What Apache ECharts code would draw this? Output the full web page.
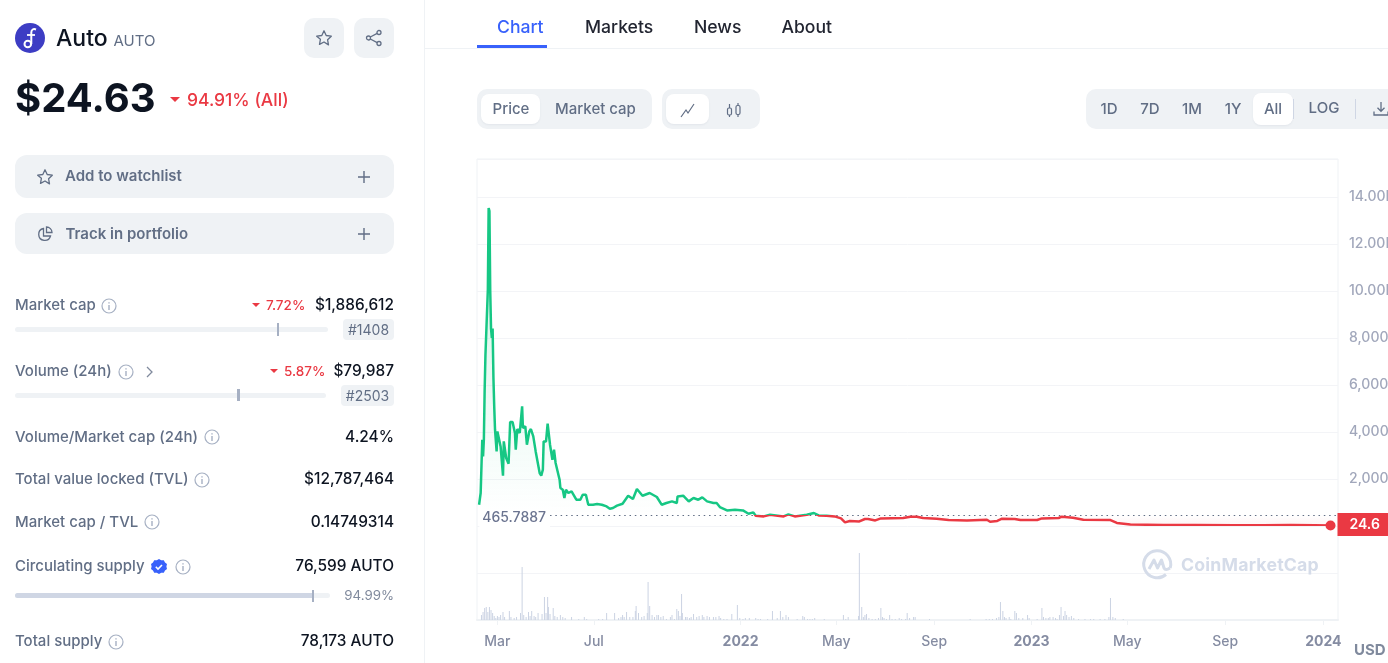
<!DOCTYPE html>
<html><head><meta charset="utf-8"><title>Auto</title>
<script src="https://cdn.jsdelivr.net/npm/echarts@6/dist/echarts.min.js"></script>
<style>
html,body{margin:0;padding:0;width:1388px;height:663px;overflow:hidden;background:#fff;font-family:Inter,"Noto Sans",sans-serif;color:#0D1421}
#chart{position:absolute;left:0;top:0;width:1388px;height:663px}
#ui{position:absolute;left:0;top:0;width:1388px;height:663px;pointer-events:none}
.t{position:absolute;white-space:nowrap;transform:translateY(-50%);line-height:1.2}
.r{transform:translate(-100%,-50%)}
.c{transform:translate(-50%,-50%)}
.l{font-size:15px;font-weight:500;color:#616E85;left:15px}
.v{font-size:15.4px;font-weight:500;color:#0D1421;left:394px}
.red{color:#EA3943}
.b{position:absolute}
.g{background:#EFF2F5}
.w{background:#fff;box-shadow:0 1px 2px rgba(88,102,126,.08)}
.i{position:absolute;overflow:visible}
.tab{font-size:17.6px;font-weight:500;color:#222531}
.tb{font-size:15px;font-weight:500;color:#616E85}
.tri{position:absolute;width:0;height:0;border-left:5px solid transparent;border-right:5px solid transparent;border-top:5px solid #EA3943}
</style></head><body>
<div id="chart"></div>
<div id="ui">
<svg width="0" height="0" style="position:absolute"><defs>
<symbol id="info" viewBox="0 0 16 16"><circle cx="8" cy="8" r="7" fill="none" stroke="#A6B0C3" stroke-width="1.2"/><path d="M8 7v5M8 4.2v1.2" stroke="#A6B0C3" stroke-width="1.4" fill="none"/></symbol>
<symbol id="star" viewBox="0 0 18 18"><path d="M9 1.8l2.2 4.7 5.1.7-3.7 3.6.9 5.1L9 13l-4.5 2.4.9-5.1L1.7 7.200l5.100-.7z" fill="none" stroke="#616E85" stroke-width="1.300" stroke-linejoin="round"/></symbol>
<symbol id="plus" viewBox="0 0 12 12"><path d="M6 0v12M0 6h12" stroke="#616E85" stroke-width="1.400"/></symbol>
</defs></svg>

<div class="b" style="left:424px;top:0;width:1px;height:663px;background:#EFF2F5"></div>
<svg class="i" style="left:15px;top:23px" width="30" height="30" viewBox="0 0 30 30"><circle cx="15" cy="15" r="15" fill="#3D3DC4"/><path d="M21 6.500c-2.500-1-4.700 0-4.700 3v11.500" fill="none" stroke="#fff" stroke-width="2"/><circle cx="12.800" cy="21" r="3.300" fill="none" stroke="#fff" stroke-width="2"/><path d="M12 12h8" stroke="#fff" stroke-width="1.800"/></svg>
<div class="t" style="left:56px;top:38.500px;font-size:23px;font-weight:500">Auto</div>
<div class="t" style="left:113.500px;top:40.500px;font-size:15px;font-weight:400;color:#616E85">AUTO</div>
<div class="b g" style="left:304px;top:18px;width:40px;height:40px;border-radius:10px"></div>
<svg class="i" style="left:315px;top:29px" width="18" height="18"><use href="#star"/></svg>
<div class="b g" style="left:354px;top:18px;width:40px;height:40px;border-radius:10px"></div>
<svg class="i" style="left:365px;top:29px" width="18" height="18" viewBox="0 0 18 18"><g fill="none" stroke="#616E85" stroke-width="1.300"><circle cx="14" cy="3.500" r="2"/><circle cx="3.500" cy="9" r="2"/><circle cx="14" cy="14.500" r="2"/><path d="M5.300 8l6.900-3.600M5.300 10l6.900 3.600"/></g></svg>

<div class="t" style="left:15px;top:98px;font-size:40px;font-weight:700">$24.63</div>
<div class="tri" style="left:170px;top:97px"></div>
<div class="t red" style="left:187px;top:98.500px;font-size:17.5px;font-weight:500">94.91% (All)</div>

<div class="b g" style="left:15px;top:155px;width:379px;height:43px;border-radius:12px"></div>
<svg class="i" style="left:36px;top:168px" width="18" height="18"><use href="#star"/></svg>
<div class="t" style="left:65px;top:176px;font-size:15px;font-weight:600;color:#616E85">Add to watchlist</div>
<svg class="i" style="left:358px;top:171px" width="12" height="12"><use href="#plus"/></svg>
<div class="b g" style="left:15px;top:213px;width:379px;height:41px;border-radius:12px"></div>
<svg class="i" style="left:37px;top:226px" width="16" height="16" viewBox="0 0 16 16"><g fill="none" stroke="#616E85" stroke-width="1.300"><path d="M6.500 2.500a6 6 0 1 0 7 7.500H6.500z"/><path d="M9.500 1a5.500 5.500 0 0 1 5.500 5.500H9.500z"/></g></svg>
<div class="t" style="left:65.500px;top:234px;font-size:15px;font-weight:600;color:#616E85">Track in portfolio</div>
<svg class="i" style="left:358px;top:228px" width="12" height="12"><use href="#plus"/></svg>

<div class="t l" style="top:305px">Market cap</div>
<svg class="i" style="left:101px;top:298px" width="16" height="16"><use href="#info"/></svg>
<div class="tri" style="left:252px;top:303px;border-left-width:4px;border-right-width:4px;border-top-width:4px"></div>
<div class="t red" style="left:266px;top:305px;font-size:13.500px;font-weight:500">7.72%</div>
<div class="t v r" style="top:305px">$1,886,612</div>
<div class="b g" style="left:15px;top:327px;width:313px;height:5px;border-radius:3px"></div>
<div class="b" style="left:277px;top:323px;width:2px;height:13px;background:#A6B0C3"></div>
<div class="b g" style="left:343px;top:319px;width:51px;height:21px;border-radius:4px"></div>
<div class="t c" style="left:368.500px;top:329.500px;font-size:14px;color:#616E85">#1408</div>

<div class="t l" style="top:371px">Volume (24h)</div>
<svg class="i" style="left:118px;top:364px" width="16" height="16"><use href="#info"/></svg>
<svg class="i" style="left:146px;top:366px" width="8" height="12" viewBox="0 0 8 12"><path d="M1 1l5 5-5 5" fill="none" stroke="#808A9D" stroke-width="1.300"/></svg>
<div class="tri" style="left:270px;top:369px;border-left-width:4px;border-right-width:4px;border-top-width:4px"></div>
<div class="t red" style="left:284px;top:371px;font-size:13.500px;font-weight:500">5.87%</div>
<div class="t v r" style="top:371px">$79,987</div>
<div class="b g" style="left:15px;top:393px;width:311px;height:5px;border-radius:3px"></div>
<div class="b" style="left:237px;top:389px;width:3px;height:12px;background:#A6B0C3"></div>
<div class="b g" style="left:341px;top:385px;width:53px;height:21px;border-radius:4px"></div>
<div class="t c" style="left:367.500px;top:395.500px;font-size:14px;color:#616E85">#2503</div>

<div class="t l" style="top:437px">Volume/Market cap (24h)</div>
<svg class="i" style="left:204px;top:429px" width="16" height="16"><use href="#info"/></svg>
<div class="t v r" style="top:437px">4.24%</div>

<div class="t l" style="top:479px">Total value locked (TVL)</div>
<svg class="i" style="left:194px;top:472px" width="16" height="16"><use href="#info"/></svg>
<div class="t v r" style="top:479px">$12,787,464</div>

<div class="t l" style="top:522px">Market cap / TVL</div>
<svg class="i" style="left:144px;top:514px" width="16" height="16"><use href="#info"/></svg>
<div class="t v r" style="top:522px">0.14749314</div>

<div class="t l" style="top:566px">Circulating supply</div>
<svg class="i" style="left:151px;top:559px" width="16" height="16" viewBox="0 0 16 16"><path d="M8 0l2.200 1.300 2.600-.1 1.200 2.300 2 1.500-.6 2.500.6 2.500-2 1.500-1.200 2.300-2.600-.1L8 15l-2.200-1.300-2.600.1L2 11.500 0 10l.6-2.500L0 5l2-1.500 1.200-2.300 2.600.1z" fill="#3861FB"/><path d="M4.800 7.800l2.200 2.200 4-4" fill="none" stroke="#fff" stroke-width="1.600"/></svg>
<svg class="i" style="left:175px;top:559px" width="16" height="16"><use href="#info"/></svg>
<div class="t v r" style="top:566px">76,599 AUTO</div>
<div class="b g" style="left:15px;top:593px;width:315px;height:5px;border-radius:3px"></div>
<div class="b" style="left:15px;top:593px;width:298px;height:5px;border-radius:3px 0 0 3px;background:#CFD6E4"></div>
<div class="b" style="left:312px;top:590px;width:2px;height:12px;background:#A6B0C3"></div>
<div class="t r" style="left:394px;top:596px;font-size:13.300px;color:#808A9D">94.99%</div>

<div class="t l" style="top:641px">Total supply</div>
<svg class="i" style="left:108px;top:634px" width="16" height="16"><use href="#info"/></svg>
<div class="t v r" style="top:641px">78,173 AUTO</div>

<div class="t tab" style="left:497px;top:27px;color:#3861FB">Chart</div>
<div class="t tab" style="left:585px;top:27px">Markets</div>
<div class="t tab" style="left:694px;top:27px">News</div>
<div class="t tab" style="left:781.500px;top:27px">About</div>
<div class="b" style="left:425px;top:48px;width:963px;height:1px;background:#EFF2F5"></div>
<div class="b" style="left:477px;top:45px;width:70px;height:3px;background:#3861FB"></div>

<div class="b g" style="left:477px;top:89px;width:175px;height:40px;border-radius:10px"></div>
<div class="b w" style="left:481px;top:94px;width:59px;height:30px;border-radius:8px"></div>
<div class="t tb c" style="left:511px;top:109px">Price</div>
<div class="t tb c" style="left:595.500px;top:109px">Market cap</div>
<div class="b g" style="left:662px;top:89px;width:98px;height:40px;border-radius:10px"></div>
<div class="b w" style="left:666px;top:94px;width:43px;height:30px;border-radius:8px"></div>
<svg class="i" style="left:680px;top:102px" width="16" height="16" viewBox="0 0 16 16"><path d="M1 15l5-7 2 3 6-9" fill="none" stroke="#616E85" stroke-width="1.200"/></svg>
<svg class="i" style="left:726px;top:102px" width="16" height="16" viewBox="0 0 16 16"><g fill="none" stroke="#616E85" stroke-width="1.200"><rect x="1.500" y="6" width="4" height="7" rx="1.500"/><path d="M3.500 2v4M3.500 13v2"/><rect x="10" y="3.500" width="4" height="9" rx="1.500"/><path d="M12 1v2.500M12 12.500v2.500"/></g></svg>

<div class="b g" style="left:1086px;top:89px;width:320px;height:40px;border-radius:10px"></div>
<div class="b w" style="left:1253px;top:93px;width:40px;height:32px;border-radius:8px"></div>
<div class="t tb c" style="left:1109px;top:109px">1D</div>
<div class="t tb c" style="left:1150px;top:109px">7D</div>
<div class="t tb c" style="left:1192px;top:109px">1M</div>
<div class="t tb c" style="left:1233px;top:109px">1Y</div>
<div class="t tb c" style="left:1273px;top:109px">All</div>
<div class="b" style="left:1293px;top:99px;width:1px;height:20px;background:#CFD6E4"></div>
<div class="t tb c" style="left:1324px;top:108px">LOG</div>
<div class="b" style="left:1355px;top:99px;width:1px;height:20px;background:#CFD6E4"></div>
<svg class="i" style="left:1373px;top:101px" width="16" height="16" viewBox="0 0 16 16"><path d="M8 1v9M4.500 6.800L8 10.300l3.500-3.500M1 10.500V14h14v-3.500" fill="none" stroke="#616E85" stroke-width="1.300"/></svg>

<svg class="i" style="left:1142px;top:549px" width="30" height="30" viewBox="0 0 30 30"><g fill="none" stroke="#D5DCE9" stroke-width="3"><path d="M28.200 19A13.500 13.500 0 1 0 24 25.500"/><path d="M7 20l5-9 3.500 8 4-8 2.500 8c1 2 3 2 6 0" stroke-linejoin="round"/></g></svg>
<div class="t" style="left:1181px;top:565px;font-size:17.7px;font-weight:700;letter-spacing:.2px;color:#D5DCE9">CoinMarketCap</div>
<div class="t" style="left:1354px;top:650px;font-size:15px;font-weight:700;color:#808A9D">USD</div>
</div>

<script>
const START = Date.UTC(2021, 1, 4);
const DAY = 86400000;
const AXIS_FIRST_DAY = -0.6;
const AXIS_LAST_DAY = 1079.4;
const BASELINE = 465.7887;

const priceDays = [2,4,6,7,8,9,10,11,13,14,15,16,17,18,19,20,21,22,24,25,27,29,32,33,36,39,41,44,47,48,50,53,56,57,60,62,65,67,70,73,75,78,80,82,83,86,88,91,94,96,98,100,103,104,107,109,111,114,118,124,129,132,136,139,145,150,156,162,166,170,175,182,189,195,200,207,216,225,231,237,244,250,251,258,265,271,277,282,288,296,300,304,313,323,333,340,346,349,359,367,369,384,390,398,413,422,428,438,448,456,461,467,479,486,490,499,506,534,543,551,559,576,591,614,639,643,652,658,674,681,702,708,729,733,747,760,794,802,819,860,900,950,986,1020,1050,1070];
const priceValues = [906,1404,3672,2961,3672,5800,7289,7289,10055,13531,13400,10000,8400,8000,8400,6310,5090,4098,3174,4025,3957,3387,2140,3600,2893,2651,4425,4425,3957,3246,4127,3957,5089,4170,4238,3459,4025,4127,3812,3174,3174,2255,2140,2396,3600,3600,4353,3459,2821,3246,2680,2706,1970,1617,1545,1191,1545,1404,1472,1119,1119,1332,1332,906,906,935,906,834,736,766,864,949,1289,1149,1574,1289,1404,1234,906,979,1047,979,1260,1289,1047,1191,1119,1217,1047,979,979,808,664,694,664,523,579,438,408,481,523,408,494,408,481,553,450,438,408,323,153,213,196,298,298,238,323,340,396,396,340,311,255,238,268,183,213,311,298,255,255,323,340,396,353,268,255,128,68,45,40,35,32,38,30,24.63];

const volumeDays = [5,7,9,11,13,15,17,19,21,23,25,27,29,32,34,40,42,46,49,54,56,58,61,64,66,68,71,73,76,81,84,86,88,89,91,95,97,100,104,107,110,118,127,134,137,152,157,162,172,177,180,182,184,187,191,195,198,199,202,206,209,213,214,216,219,222,225,227,230,233,237,242,244,247,250,252,254,256,257,261,263,266,268,271,275,278,282,284,288,291,296,299,303,305,309,313,319,326,329,333,336,341,349,352,355,364,370,376,380,383,387,390,401,408,410,414,417,420,423,435,459,462,465,478,479,482,484,486,488,491,495,499,503,506,508,510,513,517,520,524,529,532,537,539,542,547,549,567,618,638,642,646,651,654,656,659,661,663,667,669,674,676,679,684,690,692,702,708,710,713,716,718,722,725,727,730,732,735,737,739,742,745,748,754,762,769,773,781,787,792,794,797,800,810];
const volumeValues = [5,8,12,13,8,13,10,7,4,2,4,3,5,8,3,9,3,2,3,7,53,5,3,8,4,9,4,3,7,6,23,7,23,13,6,12,4,3,5,3,2,3,1,3,1,1,1,7,7,2,3,5,3,8,3,3,9,14,7,3,4,7,38,14,5,3,5,5,3,4,1,3,5,1,11,9,4,26,7,3,3,2,3,6,3,4,5,3,4,3,3,3,4,2,1,1,6,15,2,1,2,2,2,1,1,1,9,2,9,3,5,3,1,4,3,1,1,1,2,1,5,1,3,4,67,13,3,5,6,2,1,1,2,12,3,2,1,5,1,1,2,1,1,7,2,3,3,1,1,1,1,1,2,3,18,9,3,2,3,1,9,7,2,2,5,2,1,12,3,2,2,3,3,2,1,5,13,4,9,5,3,4,2,1,1,1,1,1,1,3,22,3,2,1];

const xTickDays = [25,146,330,450,573,695,815,938,1061];
const xTickLabels = ['Mar','Jul','2022','May','Sep','2023','May','Sep','2024'];
const yTickValues = [14000,12000,10000,8000,6000,4000,2000];
const yTickLabels = ['14.00K','12.00K','10.00K','8,000','6,000','4,000','2,000'];

const toTime = d => START + d * DAY;
const priceData = priceDays.map((d, i) => [toTime(d), priceValues[i]]);
const volumeData = volumeDays.map((d, i) => [toTime(d), volumeValues[i]]);
const lastPoint = priceData[priceData.length - 1];
const hi = Math.max(...priceValues), lo = Math.min(...priceValues);
const split = (hi - BASELINE) / (hi - lo);
const xTicks = xTickDays.map(toTime);

const chart = echarts.init(document.getElementById('chart'), null, {renderer: 'canvas'});
chart.setOption({
  animation: false,
  grid: {left: 477, right: 50, top: 159, bottom: 43, outerBoundsMode: 'none', show: true, borderColor: '#EFF2F5', borderWidth: 1, backgroundColor: 'transparent'},
  xAxis: {
    type: 'value', min: toTime(AXIS_FIRST_DAY), max: toTime(AXIS_LAST_DAY),
    splitLine: {show: false},
    axisLine: {show: true, onZero: false, lineStyle: {color: '#EFF2F5', width: 2}},
    axisTick: {show: true, customValues: xTicks, length: 5, lineStyle: {color: '#EFF2F5'}},
    axisLabel: {
      customValues: xTicks, margin: 15, hideOverlap: false, showMinLabel: true, showMaxLabel: true,
      formatter: v => {
        const s = xTickLabels[xTicks.indexOf(v)] || '';
        return /^\d/.test(s) ? '{y|' + s + '}' : '{m|' + s + '}';
      },
      rich: {
        m: {fontFamily: 'Inter', fontSize: 14, fontWeight: 500, color: '#858CA2'},
        y: {fontFamily: 'Inter', fontSize: 14, fontWeight: 700, color: '#858CA2'}
      }
    }
  },
  yAxis: [{
    type: 'value', position: 'right', min: -4000, max: 15617, interval: 2000,
    axisLine: {show: false}, axisTick: {show: false},
    splitLine: {lineStyle: {color: '#F3F4F7', width: 1}},
    axisLabel: {
      margin: 11, fontFamily: 'Inter', fontSize: 14, fontWeight: 500, color: '#A1A7BB', align: 'left',
      showMinLabel: true, showMaxLabel: true,
      formatter: v => { const i = yTickValues.indexOf(v); return i < 0 ? '' : yTickLabels[i]; }
    }
  }, {
    type: 'value', min: 0, max: 461, show: false, splitLine: {show: false}
  }],
  visualMap: {
    show: false, type: 'piecewise', seriesIndex: 0, dimension: 1,
    pieces: [{gt: BASELINE, lte: 20000, color: '#16C784'}, {gte: 0, lte: BASELINE, color: '#EA3943'}]
  },
  series: [{
    type: 'line', data: priceData, yAxisIndex: 0, symbol: 'none', showSymbol: false, z: 5,
    lineStyle: {width: 2.5},
    areaStyle: {
      origin: BASELINE,
      color: {type: 'linear', x: 0, y: 0, x2: 0, y2: 1, colorStops: [
        {offset: 0, color: 'rgba(22,199,132,0.3)'},
        {offset: split, color: 'rgba(22,199,132,0)'},
        {offset: split, color: 'rgba(234,57,67,0)'},
        {offset: 1, color: 'rgba(234,57,67,0.08)'}
      ]}
    },
    markLine: {
      silent: true, symbol: 'none', z: 4, animation: false,
      lineStyle: {type: [1.500, 3.800], color: '#616E85', width: 1.200},
      label: {
        show: true, position: 'start', distance: 0, offset: [0, 2.500], formatter: String(BASELINE),
        fontFamily: 'Inter', fontSize: 14, fontWeight: 500, color: '#6B7490',
        backgroundColor: '#fff', padding: [6, 4, 6, 3]
      },
      data: [[{coord: [toTime(91), BASELINE]}, {coord: [toTime(AXIS_LAST_DAY), BASELINE]}]]
    }
  }, {
    type: 'bar', data: volumeData, yAxisIndex: 1, barWidth: 1, z: 2,
    itemStyle: {color: '#CBD3E3'}
  }, {
    type: 'scatter', data: [lastPoint], yAxisIndex: 0, symbolSize: 10, z: 8,
    itemStyle: {color: '#EA3943', opacity: 1},
    label: {
      show: true, position: [12, -7.500], formatter: '24.6',
      fontFamily: 'Inter', fontSize: 14, fontWeight: 600, color: '#fff',
      backgroundColor: '#EA3943', padding: [4, 10, 4, 12], lineHeight: 15
    }
  }]
});
</script>
</body></html>
